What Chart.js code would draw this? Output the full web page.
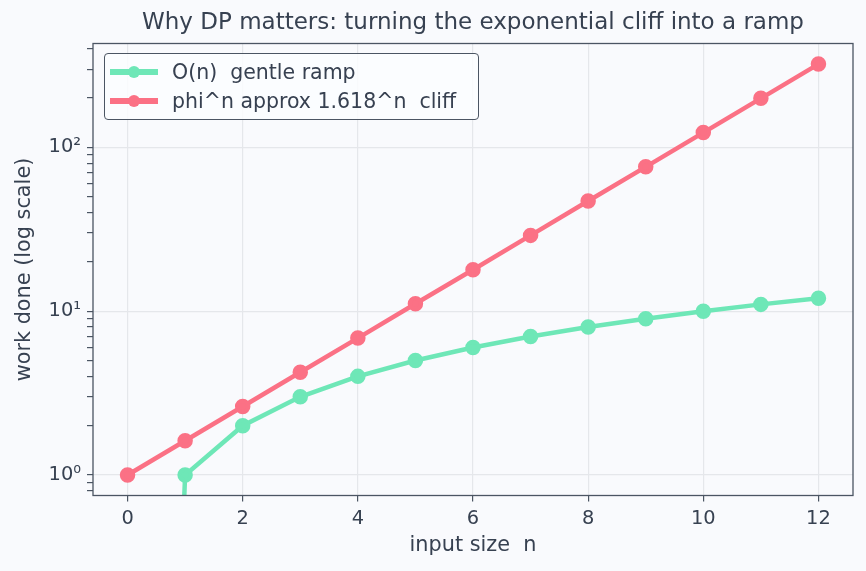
<!DOCTYPE html>
<html>
<head>
<meta charset="utf-8">
<script src="https://cdn.jsdelivr.net/npm/chart.js@4.4.1/dist/chart.umd.min.js"></script>
<style>
  html, body { margin:0; padding:0; background:#f9fafd; }
  #wrap { position:relative; width:866px; height:571px; }
  #legend {
    position:absolute; left:104px; top:53px; width:375px; height:67px;
    border:1.3px solid #4b5563; border-radius:4px; background:rgba(252,253,255,0.85);
    font-family:"DejaVu Sans", sans-serif; font-size:20.5px; color:#374151; box-sizing:border-box;
  }
  .item { position:absolute; left:5px; height:26px; display:flex; align-items:center; white-space:pre; }
  .sym { position:relative; width:48px; height:12px; margin-right:14px; }
  .sym .ln { position:absolute; left:0; right:0; top:3px; height:6px; }
  .sym .dt { position:absolute; left:18px; top:0; width:12px; height:12px; border-radius:50%; }
</style>
</head>
<body>
<div id="wrap">
  <canvas id="chart" width="866" height="571"></canvas>
  <div id="legend"></div>
</div>
<script>
// Data
const sizes = [0, 1, 2, 3, 4, 5, 6, 7, 8, 9, 10, 11, 12];
const linearWork = [0, 1, 2, 3, 4, 5, 6, 7, 8, 9, 10, 11, 12];
const phiWork = [1, 1.62, 2.62, 4.24, 6.85, 11.1, 17.9, 29.0, 47.0, 76.0, 123, 199, 322];
const seriesNames = ['O(n)  gentle ramp', 'phi^n approx 1.618^n  cliff'];
const seriesColors = ['#6ee7b7', '#fb7185'];
const xTicks = [0, 2, 4, 6, 8, 10, 12];
const yMajor = [1, 10, 100];
const yMinor = [0.8, 0.9, 2, 3, 4, 5, 6, 7, 8, 9, 20, 30, 40, 50, 60, 70, 80, 90, 200, 300, 400];
const supers = ['\u2070', '\u00b9', '\u00b2'];
const titleText = 'Why DP matters: turning the exponential cliff into a ramp';

const txt = '#374151';
const tickFont = { family: '"DejaVu Sans"', size: 19.4 };
const labelFont = { family: '"DejaVu Sans"', size: 20.8 };

// log axis can't show 0: push it far below so the segment drops off the bottom like matplotlib
const toPts = arr => arr.map((v, i) => ({ x: sizes[i], y: v > 0 ? v : 1e-9 }));

// background, axes box and a title centred over the plot area (matplotlib style)
const frame = {
  id: 'frame',
  beforeDraw(c) {
    const g = c.ctx;
    g.save(); g.fillStyle = '#f9fafd'; g.fillRect(0, 0, c.width, c.height); g.restore();
  },
  afterDatasetsDraw(c) {
    const a = c.chartArea, g = c.ctx;
    g.save(); g.strokeStyle = '#4b5563'; g.lineWidth = 1.3;
    g.strokeRect(a.left, a.top, a.right - a.left, a.bottom - a.top);
    g.fillStyle = txt; g.font = '23px "DejaVu Sans"';
    g.textAlign = 'center'; g.textBaseline = 'middle';
    g.fillText(titleText, (a.left + a.right) / 2, 23);
    g.restore();
  }
};

new Chart(document.getElementById('chart'), {
  type: 'line',
  data: {
    datasets: [linearWork, phiWork].map((arr, i) => ({
      label: seriesNames[i], data: toPts(arr),
      borderColor: seriesColors[i], backgroundColor: seriesColors[i],
      borderWidth: 4.5, pointRadius: 5.5, pointHoverRadius: 5.5, tension: 0, clip: 0
    }))
  },
  options: {
    responsive: false, animation: false,
    layout: { padding: { left: 0, right: 13, top: 43.5, bottom: 0 } },
    plugins: {
      legend: { display: false },
      tooltip: { enabled: false },
      title: { display: false }
    },
    scales: {
      x: {
        type: 'linear', min: -0.6, max: 12.6,
        afterBuildTicks: s => { s.ticks = xTicks.map(v => ({ value: v })); },
        afterFit: s => { s.height = 75.5; },
        ticks: { color: txt, font: tickFont, padding: 6, maxRotation: 0 },
        grid: { color: '#e5e7eb', tickColor: '#4b5563', tickLength: 6, lineWidth: 1.2 },
        border: { display: false },
        title: { display: true, text: 'input size  n', color: txt, font: labelFont, padding: { top: 0, bottom: 13 } }
      },
      y: {
        type: 'logarithmic', min: 0.75, max: 430,
        afterBuildTicks: s => {
          s.ticks = yMajor.concat(yMinor).sort((a, b) => a - b).map(v => ({ value: v, major: yMajor.includes(v) }));
        },
        afterFit: s => { s.width = 93; },
        ticks: {
          color: txt, font: tickFont, padding: 6, autoSkip: false,
          callback: v => { const k = yMajor.indexOf(v); return k < 0 ? '' : '10' + supers[k]; }
        },
        grid: {
          color: c => yMajor.includes(c.tick.value) ? '#e5e7eb' : 'rgba(0,0,0,0)',
          tickColor: '#4b5563', tickLength: 6, lineWidth: 1.2
        },
        border: { display: false },
        title: { display: true, text: 'work done (log scale)', color: txt, font: labelFont, padding: { top: 12, bottom: 4 } }
      }
    }
  },
  plugins: [frame]
});

// legend box inside the axes, built from the series names/colours
const lg = document.getElementById('legend');
seriesNames.forEach((name, i) => {
  const it = document.createElement('div');
  it.className = 'item';
  it.style.top = (5 + i * 29) + 'px';
  it.innerHTML = '<span class="sym"><span class="ln" style="background:' + seriesColors[i] + '"></span>' +
    '<span class="dt" style="background:' + seriesColors[i] + '"></span></span>';
  it.appendChild(document.createTextNode(name));
  lg.appendChild(it);
});
</script>
</body>
</html>
